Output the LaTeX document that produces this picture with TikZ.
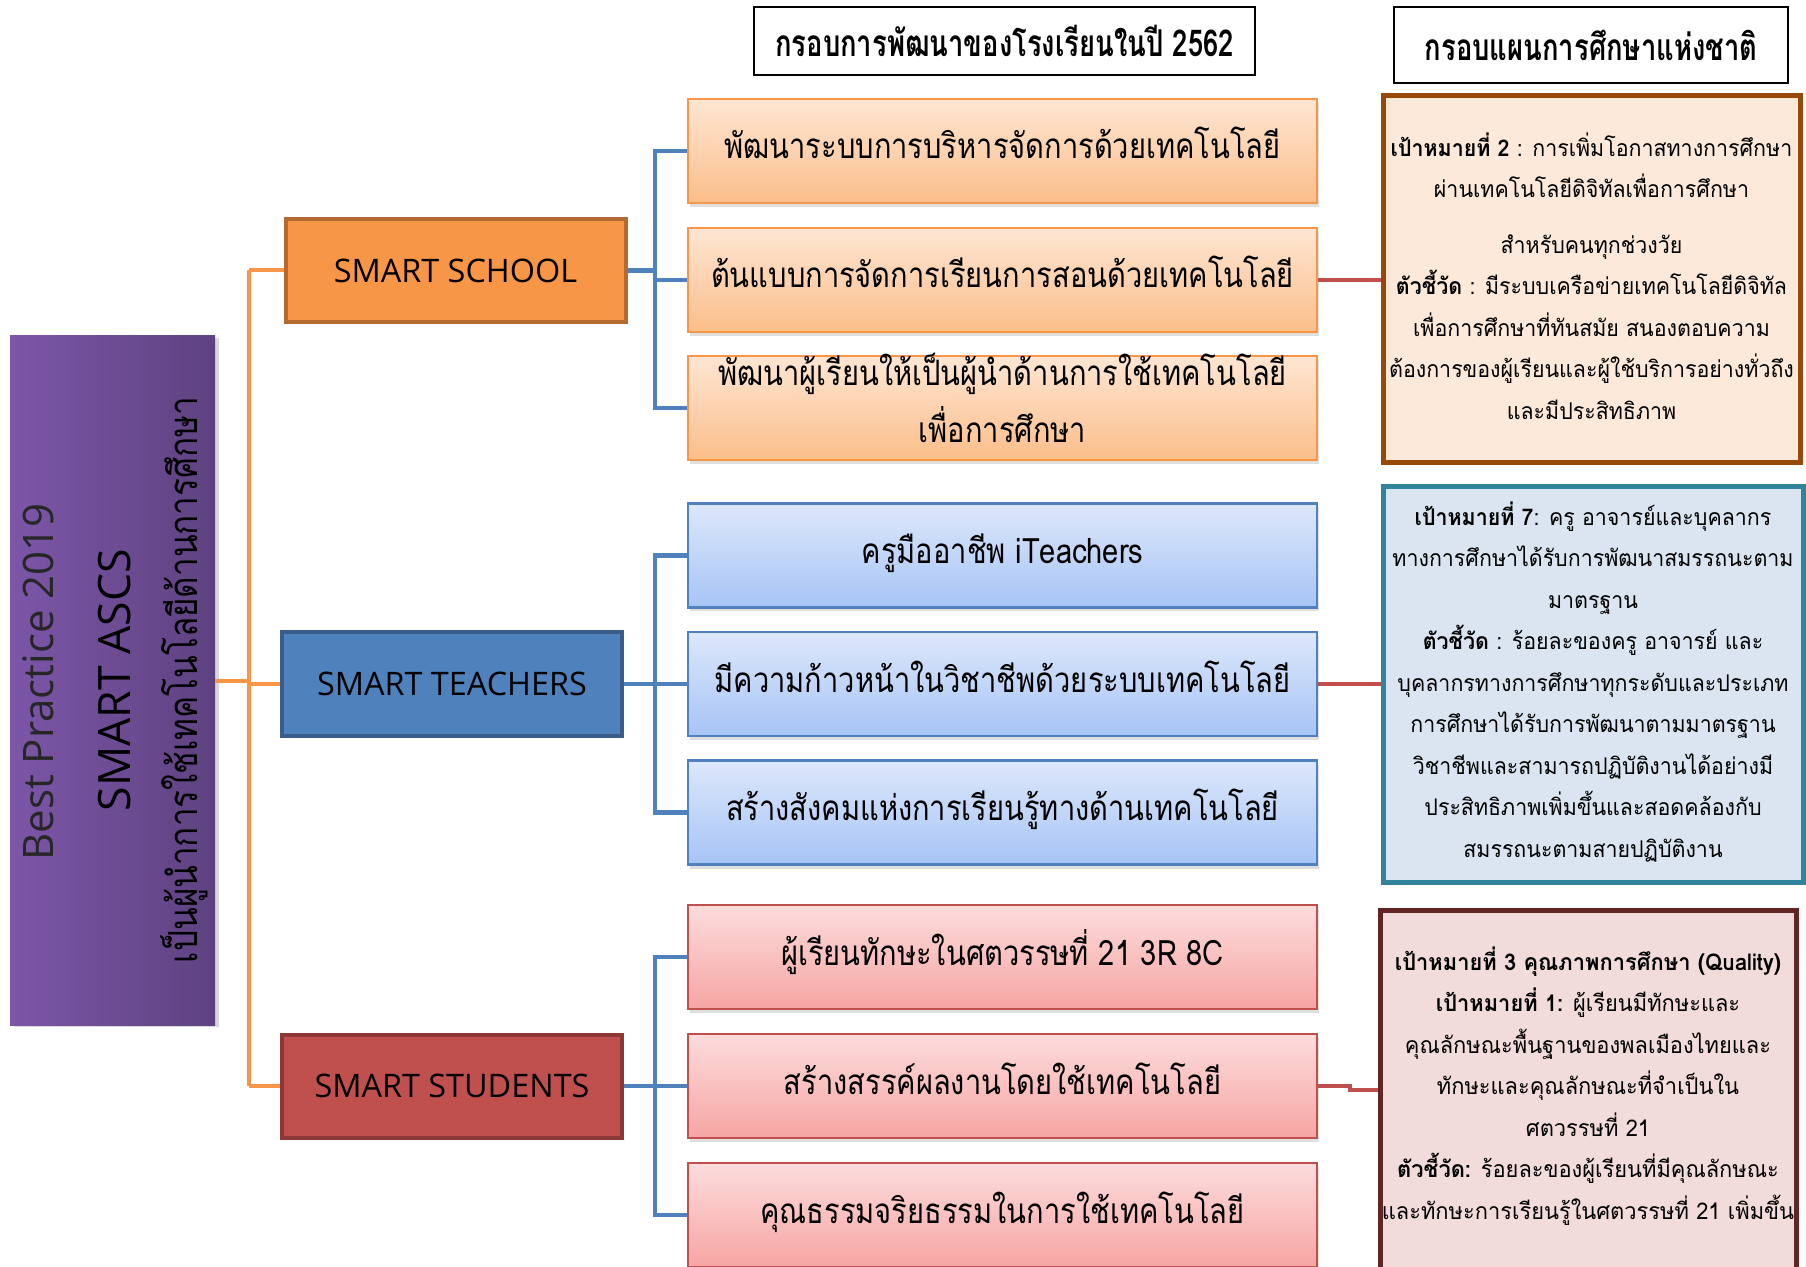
\documentclass[tikz,border=0pt]{standalone}
\usepackage{fontspec}
\setmainfont{Open Sans}
\newfontfamily\thfont[Script=Thai]{Loma}
\newfontfamily\rowfont[Script=Thai,FakeStretch=0.83]{Loma}
\newfontfamily\infofont[Script=Thai,FakeStretch=0.93]{Loma}
\newfontfamily\infofontb[Script=Thai,FakeStretch=0.95]{Loma}
\newfontfamily\hdfont[Script=Thai,FakeStretch=0.74]{Loma}
\usetikzlibrary{shadows}
\definecolor{orgA}{HTML}{F79646}
\definecolor{orgB}{HTML}{B46A30}
\definecolor{orgT}{HTML}{FEE6D3}
\definecolor{orgU}{HTML}{FBBE8A}
\definecolor{bluA}{HTML}{4F81BD}
\definecolor{bluB}{HTML}{385D8A}
\definecolor{bluT}{HTML}{DDE7FB}
\definecolor{bluU}{HTML}{A6C4F5}
\definecolor{redA}{HTML}{C0504D}
\definecolor{redB}{HTML}{8C3836}
\definecolor{redT}{HTML}{FCDCDC}
\definecolor{redU}{HTML}{F6A5A3}
\definecolor{purL}{HTML}{7C56A8}
\definecolor{purR}{HTML}{5E4280}
\definecolor{inf1}{HTML}{FDE9D9}
\definecolor{inf1b}{HTML}{984807}
\definecolor{inf2}{HTML}{DBE5F1}
\definecolor{inf2b}{HTML}{31849B}
\definecolor{inf3}{HTML}{F2DCDB}
\definecolor{inf3b}{HTML}{632523}
\tikzset{
  rowbox/.style={rectangle, inner sep=0pt, minimum width=314.5pt, minimum height=52pt,
    line width=1.2pt,
    drop shadow={shadow xshift=1pt, shadow yshift=-2pt, opacity=0.25}},
  rowO/.style={rowbox, draw=orgA, top color=orgT, bottom color=orgU},
  rowB/.style={rowbox, draw=bluA, top color=bluT, bottom color=bluU},
  rowR/.style={rowbox, draw=redA, top color=redT, bottom color=redU},
  rowtext/.style={anchor=base, inner sep=0pt, font=\rowfont\fontsize{17.5}{29}\selectfont},
  smartbox/.style={rectangle, inner sep=0pt, minimum width=170pt, minimum height=51.5pt,
    line width=2pt, font=\fontsize{16.2}{19}\selectfont},
  hdbox/.style={rectangle, draw=black, line width=0.6pt, inner sep=0pt, fill=white,
    font=\hdfont\bfseries\fontsize{18.5}{20}\selectfont},
  infobox/.style={rectangle, inner sep=0pt, line width=2.5pt},
  infotext/.style={align=center, inner sep=0pt, font=\infofont\fontsize{11.5}{20.75}\selectfont},
  oline/.style={draw=orgA, line width=2pt},
  bline/.style={draw=bluA, line width=2.2pt},
  rline/.style={draw=redA, line width=2.2pt},
}
\begin{document}
\begin{tikzpicture}[x=0.5pt,y=-0.5pt]
\useasboundingbox (0,0) rectangle (1806,1267);
\fill[white] (0,0) rectangle (1806,1267);

% coordinates for connector routing
\coordinate (tT) at (249,270.5);
\coordinate (tB) at (249,1086);
\coordinate (bx) at (655,0);
\coordinate (s8) at (1350,1090);

% purple title box
\node[rectangle, inner sep=0pt, minimum width=102.5pt, minimum height=344.5pt,
  left color=purL, right color=purR,
  drop shadow={shadow xshift=2pt, shadow yshift=-1pt, opacity=0.3}] (purple) at (112.5,680.5) {};
\node[rotate=90, font=\fontsize{21}{24}\selectfont, text=black!85] (bp) at (38,682) {Best Practice 2019};
\node[rotate=90, font=\fontsize{22.3}{26}\selectfont] (sa) at (115,680) {SMART ASCS};
\node[rotate=90, font=\rowfont\fontsize{20}{22}\selectfont] (lead) at (184,680) {เป็นผู้นำการใช้เทคโนโลยีด้านการศึกษา};

% SMART boxes
\node[smartbox, fill=orgA, draw=orgB] (school) at (455.5,270.5) {SMART SCHOOL};
\node[smartbox, fill=bluA, draw=bluB] (teach) at (452,684) {SMART TEACHERS};
\node[smartbox, fill=redA, draw=redB] (stud) at (452,1086) {SMART STUDENTS};

% headers
\node[hdbox, minimum width=250.5pt, minimum height=34pt] (h1) at (1004.5,41) {กรอบการพัฒนาของโรงเรียนในปี 2562};
\node[hdbox, minimum width=197pt, minimum height=38pt] (h2) at (1591,45) {กรอบแผนการศึกษาแห่งชาติ};

% row boxes
\node[rowO] (r1) at (1002.5,151) {};
\node[rowO] (r2) at (1002.5,280) {};
\node[rowO] (r3) at (1002.5,408) {};
\node[rowB] (r4) at (1002.5,555.5) {};
\node[rowB] (r5) at (1002.5,684) {};
\node[rowB] (r6) at (1002.5,812.5) {};
\node[rowR] (r7) at (1002.5,957) {};
\node[rowR] (r8) at (1002.5,1086) {};
\node[rowR] (r9) at (1002.5,1215) {};

% row texts
\node[rowtext] (r1t) at (1002.5,159) {พัฒนาระบบการบริหารจัดการด้วยเทคโนโลยี};
\node[rowtext] (r2t) at (1002.5,288) {ต้นแบบการจัดการเรียนการสอนด้วยเทคโนโลยี};
\node[rowtext] (r3t) at (1002.5,386) {พัฒนาผู้เรียนให้เป็นผู้นำด้านการใช้เทคโนโลยี};
\node[rowtext] (r3u) at (1002.5,443) {เพื่อการศึกษา};
\node[rowtext] (r4t) at (1002.5,563.5) {ครูมืออาชีพ iTeachers};
\node[rowtext] (r5t) at (1002.5,692) {มีความก้าวหน้าในวิชาชีพด้วยระบบเทคโนโลยี};
\node[rowtext] (r6t) at (1002.5,820.5) {สร้างสังคมแห่งการเรียนรู้ทางด้านเทคโนโลยี};
\node[rowtext] (r7t) at (1002.5,965) {ผู้เรียนทักษะในศตวรรษที่ 21 3R 8C};
\node[rowtext] (r8t) at (1002.5,1094) {สร้างสรรค์ผลงานโดยใช้เทคโนโลยี};
\node[rowtext] (r9t) at (1002.5,1223) {คุณธรรมจริยธรรมในการใช้เทคโนโลยี};

% info boxes
\node[infobox, fill=inf1, draw=inf1b, minimum width=208.5pt, minimum height=183.5pt] (i1) at (1591.5,279.5) {};
\node[infobox, fill=inf2, draw=inf2b, minimum width=210pt, minimum height=197.5pt] (i2) at (1593,684.5) {};
\node[infobox, fill=inf3, draw=inf3b, minimum width=208pt, minimum height=185pt] (i3) at (1588,1095) {};

\node[infotext] (t1) at (i1.center |- 0,276) {%
{\bfseries เป้าหมายที่ 2} : การเพิ่มโอกาสทางการศึกษา\\
ผ่านเทคโนโลยีดิจิทัลเพื่อการศึกษา\\[7pt]
สำหรับคนทุกช่วงวัย\\
{\bfseries ตัวชี้วัด} : มีระบบเครือข่ายเทคโนโลยีดิจิทัล\\
เพื่อการศึกษาที่ทันสมัย สนองตอบความ\\
ต้องการของผู้เรียนและผู้ใช้บริการอย่างทั่วถึง\\
และมีประสิทธิภาพ};
\node[infotext] (t2) at (i2.center |- 0,681.5) {%
{\bfseries เป้าหมายที่ 7}: ครู อาจารย์และบุคลากร\\
ทางการศึกษาได้รับการพัฒนาสมรรถนะตาม\\
มาตรฐาน\\
{\bfseries ตัวชี้วัด} : ร้อยละของครู อาจารย์ และ\\
บุคลากรทางการศึกษาทุกระดับและประเภท\\
การศึกษาได้รับการพัฒนาตามมาตรฐาน\\
วิชาชีพและสามารถปฏิบัติงานได้อย่างมี\\
ประสิทธิภาพเพิ่มขึ้นและสอดคล้องกับ\\
สมรรถนะตามสายปฏิบัติงาน};
\node[infotext, font=\infofontb\fontsize{11.5}{20.75}\selectfont] (t3) at (i3.center |- 0,1086) {%
{\bfseries เป้าหมายที่ 3 คุณภาพการศึกษา (Quality)}\\
{\bfseries เป้าหมายที่ 1:} ผู้เรียนมีทักษะและ\\
คุณลักษณะพื้นฐานของพลเมืองไทยและ\\
ทักษะและคุณลักษณะที่จำเป็นใน\\
ศตวรรษที่ 21\\
{\bfseries ตัวชี้วัด:} ร้อยละของผู้เรียนที่มีคุณลักษณะ\\
และทักษะการเรียนรู้ในศตวรรษที่ 21 เพิ่มขึ้น};

% connectors
\draw[oline] (tT) -- (tB);
\draw[oline] (purple.east) -- (purple.east -| tT);
\draw[oline] (tT) -- (school.west);
\draw[oline] (teach.west -| tT) -- (teach.west);
\draw[oline] (tB) -- (stud.west);

\draw[bline] (school.east) -- (school.east -| bx);
\draw[bline] (r1.west) -- (r1.west -| bx) -- (r3.west -| bx) -- (r3.west);
\draw[bline] (r2.west -| bx) -- (r2.west);
\draw[bline] (teach.east) -- (teach.east -| bx);
\draw[bline] (r4.west) -- (r4.west -| bx) -- (r6.west -| bx) -- (r6.west);
\draw[bline] (r5.west -| bx) -- (r5.west);
\draw[bline] (stud.east) -- (stud.east -| bx);
\draw[bline] (r7.west) -- (r7.west -| bx) -- (r9.west -| bx) -- (r9.west);
\draw[bline] (r8.west -| bx) -- (r8.west);

\draw[rline] (r2.east) -- (r2.east -| i1.west);
\draw[rline] (r5.east) -- (r5.east -| i2.west);
\draw[rline] (r8.east) -- (r8.east -| s8) -- (s8) -- (s8 -| i3.west);
\end{tikzpicture}
\end{document}
